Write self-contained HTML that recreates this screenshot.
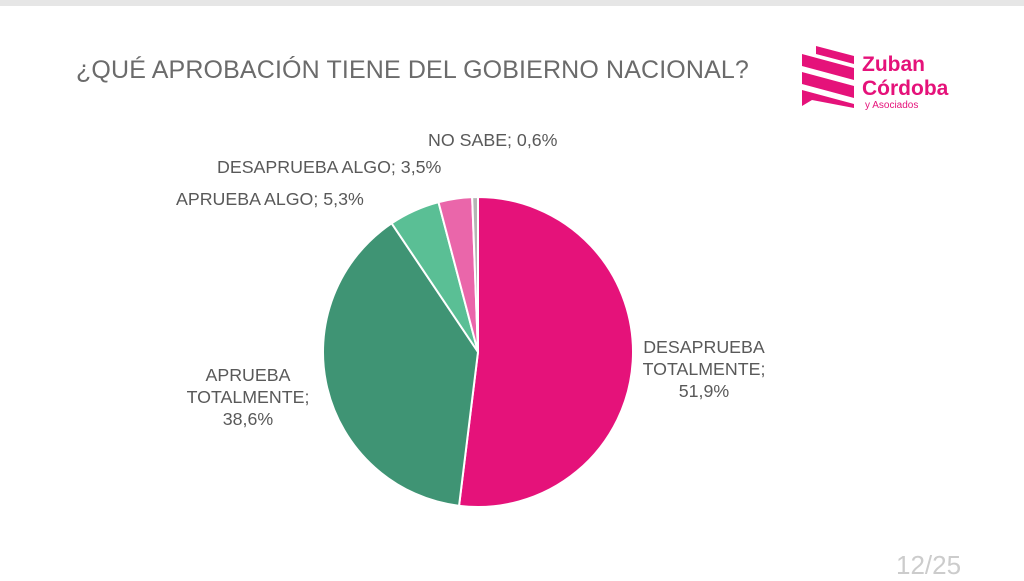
<!DOCTYPE html>
<html><head><meta charset="utf-8"><style>
body{margin:0;width:1024px;height:563px;background:#fff;overflow:hidden;font-family:"Liberation Sans",sans-serif;position:relative}
.top{position:absolute;left:0;top:0;width:1024px;height:6px;background:#e6e6e6}
.title{position:absolute;left:76px;top:56px;font-size:25px;color:#6b6b6b;letter-spacing:0.14px}
.lbl{position:absolute;font-size:17.8px;color:#595959;line-height:22px;white-space:nowrap}
</style></head><body>
<div class="top"></div>
<div class="title">¿QUÉ APROBACIÓN TIENE DEL GOBIERNO NACIONAL?</div>
<svg style="position:absolute;left:798px;top:44px" width="160" height="70">
<polygon points="4,10 56,24 56,36 4,22" fill="#e5127a"/>
<polygon points="4,28 56,42 56,54 4,40" fill="#e5127a"/>
<polygon points="4,46 56,60 56,64 14,56 4,62" fill="#e5127a"/>
<polygon points="18,2 56,12 56,20 18,10" fill="#e5127a"/>
<text x="64" y="27" font-size="21" font-weight="bold" fill="#e5127a" font-family="Liberation Sans,sans-serif">Zuban</text>
<text x="64" y="51" font-size="21" font-weight="bold" fill="#e5127a" font-family="Liberation Sans,sans-serif">Córdoba</text>
<text x="67" y="64" font-size="10" fill="#e5127a" font-family="Liberation Sans,sans-serif">y Asociados</text>
</svg>
<svg id="pie" style="position:absolute;left:0;top:0" width="1024" height="563"></svg>
<div class="lbl" style="left:428px;top:129px">NO SABE; 0,6%</div>
<div class="lbl" style="left:217px;top:156px">DESAPRUEBA ALGO; 3,5%</div>
<div class="lbl" style="left:176px;top:188px">APRUEBA ALGO; 5,3%</div>
<div class="lbl" style="left:178px;top:364px;text-align:center;width:140px">APRUEBA<br>TOTALMENTE;<br>38,6%</div>
<div class="lbl" style="left:634px;top:336px;text-align:center;width:140px">DESAPRUEBA<br>TOTALMENTE;<br>51,9%</div>
<div style="position:absolute;left:896px;top:550px;font-size:26px;color:#ccc">12/25</div>
<script>
const categories=["Desaprueba totalmente","Aprueba totalmente","Aprueba algo","Desaprueba algo","No sabe"];
const values=[51.9,38.6,5.3,3.5,0.6];
const colors=["#e5127a","#3f9474","#5abf95","#ea66aa","#b5b5b5"];
const svg=document.getElementById('pie');
const cx=478,cy=352,r=155;
const total=values.reduce((a,b)=>a+b,0);
let a0=-Math.PI/2;
values.forEach((v,i)=>{
 const a1=a0+v/total*2*Math.PI;
 const large=(a1-a0)>Math.PI?1:0;
 const x0=cx+r*Math.cos(a0),y0=cy+r*Math.sin(a0),x1=cx+r*Math.cos(a1),y1=cy+r*Math.sin(a1);
 const p=document.createElementNS('http://www.w3.org/2000/svg','path');
 p.setAttribute('d',`M${cx},${cy}L${x0},${y0}A${r},${r} 0 ${large} 1 ${x1},${y1}Z`);
 p.setAttribute('fill',colors[i]);p.setAttribute('stroke','#fff');p.setAttribute('stroke-width','2');
 
 
 svg.appendChild(p);a0=a1;
});
</script>
</body></html>
